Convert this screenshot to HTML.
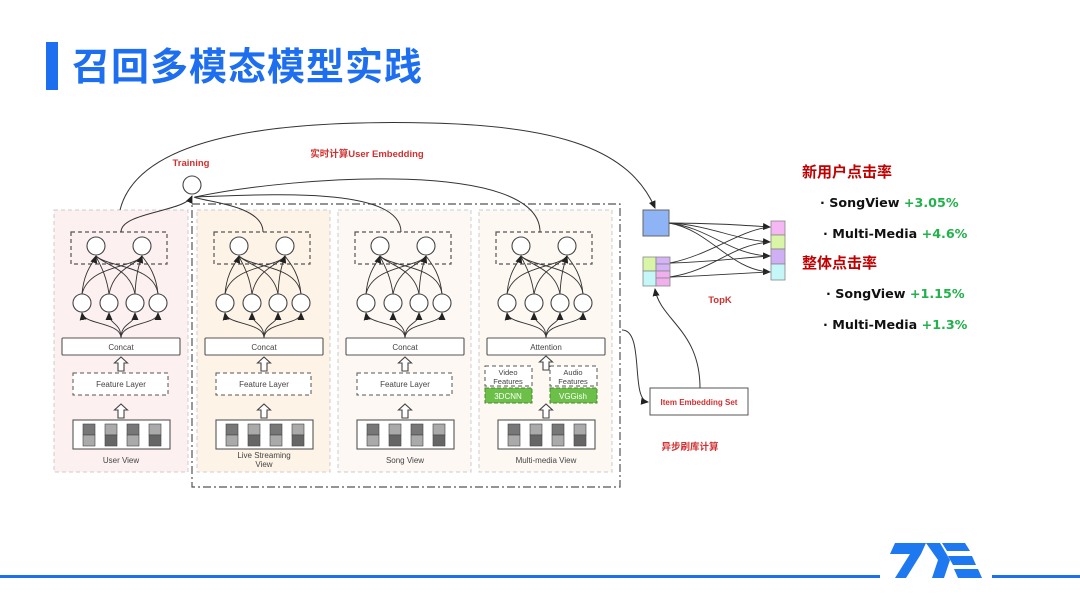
<!DOCTYPE html>
<html><head><meta charset="utf-8"><style>
html,body{margin:0;padding:0;background:#fff;}
svg{display:block;}
</style></head><body>
<svg width="1080" height="608" viewBox="0 0 1080 608" xmlns="http://www.w3.org/2000/svg" font-family="Liberation Sans, Noto Sans CJK SC, sans-serif">
<defs>
<marker id="ar" markerWidth="8" markerHeight="8" refX="7" refY="4" orient="auto" markerUnits="userSpaceOnUse"><path d="M0,0.5 L8,4 L0,7.5 z" fill="#222"/></marker>
<g id="net">
  <rect x="17" y="232" width="96" height="32" fill="none" stroke="#555" stroke-width="1.2" stroke-dasharray="4,3"/>
  <g fill="none" stroke="#333" stroke-width="0.9">
    <path d="M28,294 C30,270 40,262 42,256" marker-end="url(#ar)"/>
    <path d="M55,294 C52,272 44,262 42,256"/>
    <path d="M81,294 C76,268 50,265 42,256"/>
    <path d="M104,294 C100,265 55,268 42,256"/>
    <path d="M28,294 C35,265 80,268 88,256"/>
    <path d="M55,294 C60,268 82,265 88,256"/>
    <path d="M81,294 C82,272 86,262 88,256" marker-end="url(#ar)"/>
    <path d="M104,294 C102,272 92,262 88,256"/>
    <path d="M67,338 C67,322 30,325 28,313" marker-end="url(#ar)"/>
    <path d="M67,338 C67,322 55,325 55,313" marker-end="url(#ar)"/>
    <path d="M67,338 C67,322 81,325 81,313" marker-end="url(#ar)"/>
    <path d="M67,338 C67,322 104,325 104,313" marker-end="url(#ar)"/>
  </g>
  <g fill="#fff" stroke="#444" stroke-width="1.1">
    <circle cx="42" cy="246" r="9"/><circle cx="88" cy="246" r="9"/>
    <circle cx="28" cy="303" r="9"/><circle cx="55" cy="303" r="9"/><circle cx="81" cy="303" r="9"/><circle cx="104" cy="303" r="9"/>
  </g>
  <rect x="8" y="338" width="118" height="17" fill="#fff" stroke="#555" stroke-width="1.1" rx="1"/>
</g>
<path id="up" d="M-3,0 L-3,-8 L-6.5,-8 L0,-14 L6.5,-8 L3,-8 L3,0 z" fill="#fff" stroke="#444" stroke-width="1.1"/>
<g id="inp">
  <rect x="19" y="420" width="97" height="29" fill="#fff" stroke="#555" stroke-width="1.1"/>
  <rect x="29" y="424" width="12" height="11" fill="#777" stroke="#444" stroke-width="0.6"/><rect x="29" y="435" width="12" height="11" fill="#aaa" stroke="#444" stroke-width="0.6"/>
  <rect x="51" y="424" width="12" height="11" fill="#aaa" stroke="#444" stroke-width="0.6"/><rect x="51" y="435" width="12" height="11" fill="#666" stroke="#444" stroke-width="0.6"/>
  <rect x="73" y="424" width="12" height="11" fill="#777" stroke="#444" stroke-width="0.6"/><rect x="73" y="435" width="12" height="11" fill="#aaa" stroke="#444" stroke-width="0.6"/>
  <rect x="95" y="424" width="12" height="11" fill="#aaa" stroke="#444" stroke-width="0.6"/><rect x="95" y="435" width="12" height="11" fill="#666" stroke="#444" stroke-width="0.6"/>
</g>
</defs>

<rect x="46" y="42" width="12" height="48" fill="#1e6ff0"/>
<text x="72" y="80" font-size="38" font-weight="bold" fill="#1e6ff0" font-family="Noto Sans CJK SC, sans-serif" letter-spacing="1">召回多模态模型实践</text>

<rect x="54" y="210" width="134" height="262" fill="#fcf0f0" stroke="#ccc" stroke-dasharray="4,3"/>
<rect x="197" y="210" width="133" height="262" fill="#fdf3e7" stroke="#ccc" stroke-dasharray="4,3"/>
<rect x="338" y="210" width="133" height="262" fill="#fdf8f4" stroke="#ccc" stroke-dasharray="4,3"/>
<rect x="479" y="210" width="133" height="262" fill="#fdf8f2" stroke="#ccc" stroke-dasharray="4,3"/>
<rect x="192" y="204" width="428" height="283" fill="none" stroke="#555" stroke-width="1.2" stroke-dasharray="8,3,2,3"/>

<g transform="translate(54,0)"><use href="#net"/><text x="67" y="350" font-size="8" text-anchor="middle" fill="#444">Concat</text>
<use href="#up" transform="translate(67,371)"/><rect x="19" y="373" width="95" height="22" fill="#fff" stroke="#555" stroke-dasharray="4,3"/><text x="67" y="387" font-size="8" text-anchor="middle" fill="#444">Feature Layer</text>
<use href="#up" transform="translate(67,418)"/><use href="#inp"/><text x="67" y="463" font-size="8" text-anchor="middle" fill="#444">User View</text></g>

<g transform="translate(197,0)"><use href="#net"/><text x="67" y="350" font-size="8" text-anchor="middle" fill="#444">Concat</text>
<use href="#up" transform="translate(67,371)"/><rect x="19" y="373" width="95" height="22" fill="#fff" stroke="#555" stroke-dasharray="4,3"/><text x="67" y="387" font-size="8" text-anchor="middle" fill="#444">Feature Layer</text>
<use href="#up" transform="translate(67,418)"/><use href="#inp"/><text x="67" y="458" font-size="8" text-anchor="middle" fill="#444">Live Streaming</text><text x="67" y="467" font-size="8" text-anchor="middle" fill="#444">View</text></g>

<g transform="translate(338,0)"><use href="#net"/><text x="67" y="350" font-size="8" text-anchor="middle" fill="#444">Concat</text>
<use href="#up" transform="translate(67,371)"/><rect x="19" y="373" width="95" height="22" fill="#fff" stroke="#555" stroke-dasharray="4,3"/><text x="67" y="387" font-size="8" text-anchor="middle" fill="#444">Feature Layer</text>
<use href="#up" transform="translate(67,418)"/><use href="#inp"/><text x="67" y="463" font-size="8" text-anchor="middle" fill="#444">Song View</text></g>

<g transform="translate(479,0)"><use href="#net"/><text x="67" y="350" font-size="8" text-anchor="middle" fill="#444">Attention</text>
<use href="#up" transform="translate(67,370)"/>
<rect x="6" y="366" width="47" height="20" fill="#fff" stroke="#555" stroke-dasharray="4,3"/><text x="29" y="375" font-size="7.5" text-anchor="middle" fill="#444">Video</text><text x="29" y="384" font-size="7.5" text-anchor="middle" fill="#444">Features</text>
<rect x="71" y="366" width="47" height="20" fill="#fff" stroke="#555" stroke-dasharray="4,3"/><text x="94" y="375" font-size="7.5" text-anchor="middle" fill="#444">Audio</text><text x="94" y="384" font-size="7.5" text-anchor="middle" fill="#444">Features</text>
<rect x="6" y="388" width="47" height="15" fill="#6cc04a" stroke="#4a8a30" stroke-dasharray="4,2"/><text x="29" y="399" font-size="8" text-anchor="middle" fill="#fff">3DCNN</text>
<rect x="71" y="388" width="47" height="15" fill="#6cc04a" stroke="#4a8a30" stroke-dasharray="4,2"/><text x="94" y="399" font-size="8" text-anchor="middle" fill="#fff">VGGish</text>
<use href="#up" transform="translate(67,418)"/><use href="#inp"/><text x="67" y="463" font-size="8" text-anchor="middle" fill="#444">Multi-media View</text></g>

<text x="191" y="166" font-size="9.5" font-weight="bold" text-anchor="middle" fill="#d03030">Training</text>
<circle cx="192" cy="185" r="9" fill="#fff" stroke="#444" stroke-width="1.1"/>
<g fill="none" stroke="#333" stroke-width="1">
  <path d="M121,232 C121,212 185,212 192,196" marker-end="url(#ar)"/>
  <path d="M263,232 C263,205 205,202 194,197"/>
  <path d="M401,232 C401,185 260,195 195,197"/>
  <path d="M540,232 C540,160 300,175 195,197"/>
  <path d="M120,210 C140,130 300,120 430,123 C560,126 630,150 655,208" marker-end="url(#ar)"/>
  <path d="M622,330 C645,330 630,400 648,402" marker-end="url(#ar)"/>
  <path d="M700,388 C700,330 660,320 655,289" marker-end="url(#ar)"/>
</g>
<text x="367" y="157" font-size="9.5" font-weight="bold" text-anchor="middle" fill="#d03030">实时计算User Embedding</text>

<rect x="643" y="210" width="26" height="26" fill="#8fb4f6" stroke="#666"/>
<rect x="643" y="257" width="13" height="14" fill="#d8f5a8" stroke="#888" stroke-width="0.8"/>
<rect x="643" y="271" width="13" height="15" fill="#c5f6f8" stroke="#888" stroke-width="0.8"/>
<rect x="656" y="257" width="14" height="7" fill="#d4b4f4" stroke="#888" stroke-width="0.8"/>
<rect x="656" y="264" width="14" height="7" fill="#d4b4f4" stroke="#888" stroke-width="0.8"/>
<rect x="656" y="271" width="14" height="7" fill="#f0b0ee" stroke="#888" stroke-width="0.8"/>
<rect x="656" y="278" width="14" height="8" fill="#f0b0ee" stroke="#888" stroke-width="0.8"/>
<rect x="771" y="221" width="14" height="14" fill="#f6b8f4" stroke="#888" stroke-width="0.8"/>
<rect x="771" y="235" width="14" height="14" fill="#d8f5a8" stroke="#888" stroke-width="0.8"/>
<rect x="771" y="249" width="14" height="15" fill="#d0b0f4" stroke="#888" stroke-width="0.8"/>
<rect x="771" y="264" width="14" height="16" fill="#c5f6f8" stroke="#888" stroke-width="0.8"/>
<g fill="none" stroke="#333" stroke-width="0.9">
  <path d="M669,223 C710,223 740,225 770,227" marker-end="url(#ar)"/>
  <path d="M669,223 C710,225 735,240 770,242" marker-end="url(#ar)"/>
  <path d="M669,223 C710,228 730,255 770,256" marker-end="url(#ar)"/>
  <path d="M669,223 C710,230 730,270 770,272" marker-end="url(#ar)"/>
  <path d="M670,263 C710,262 740,258 770,256"/>
  <path d="M670,263 C710,255 740,230 770,227"/>
  <path d="M670,277 C710,276 740,273 770,272"/>
  <path d="M670,277 C715,270 730,245 770,242"/>
</g>
<text x="720" y="303" font-size="9.5" font-weight="bold" text-anchor="middle" fill="#d03030">TopK</text>
<rect x="650" y="388" width="98" height="27" fill="#fff" stroke="#555" stroke-width="1"/>
<text x="699" y="405" font-size="8" font-weight="bold" text-anchor="middle" fill="#d03030">Item Embedding Set</text>
<text x="690" y="450" font-size="9.5" font-weight="bold" text-anchor="middle" fill="#d03030">异步刷库计算</text>

<g font-size="12.7" font-weight="bold" font-family="DejaVu Sans, Noto Sans CJK SC, sans-serif">
<text x="802" y="177" font-size="15" fill="#c00000" font-family="Noto Sans CJK SC, sans-serif">新用户点击率</text>
<text x="820" y="207" fill="#111">· SongView <tspan fill="#22b14c">+3.05%</tspan></text>
<text x="823" y="238" fill="#111">· Multi-Media <tspan fill="#22b14c">+4.6%</tspan></text>
<text x="802" y="268" font-size="15" fill="#c00000" font-family="Noto Sans CJK SC, sans-serif">整体点击率</text>
<text x="826" y="298" fill="#111">· SongView <tspan fill="#22b14c">+1.15%</tspan></text>
<text x="823" y="329" fill="#111">· Multi-Media <tspan fill="#22b14c">+1.3%</tspan></text>
</g>

<rect x="0" y="575" width="880" height="3" fill="#1e6ff0"/>
<rect x="992" y="575" width="88" height="3" fill="#1e6ff0"/>
<g fill="#1e78f0">
  <polygon points="895,543 926,543 921,554 890,554"/>
  <polygon points="910,554 921,554 906,578 895,578"/>
  <polygon points="926,543 940,543 950,560 944,578 932,578 938,560"/>
  <polygon points="942,543 965,543 970,551 947,551"/>
  <polygon points="948,556 972,556 976,565 953,565"/>
  <polygon points="954,569 978,569 982,578 958,578"/>
</g>
</svg>
</body></html>
